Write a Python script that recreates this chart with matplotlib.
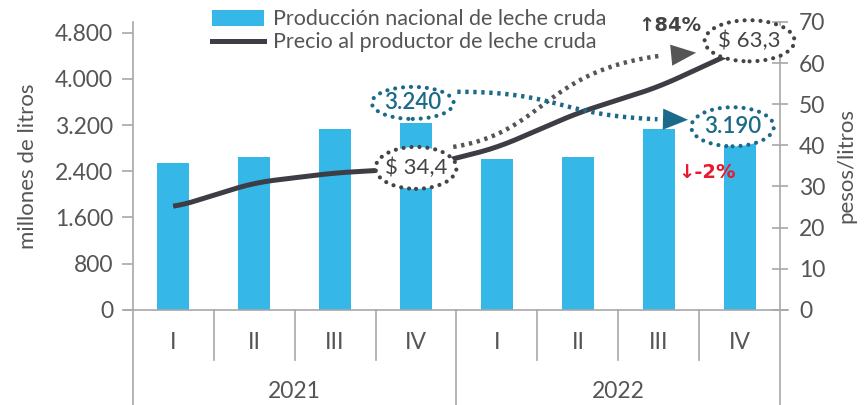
import numpy as np
import matplotlib.pyplot as plt
from matplotlib.patches import Ellipse, Patch
from matplotlib.lines import Line2D
import matplotlib.transforms as mtransforms

plt.rcParams['font.family'] = ['Lato', 'DejaVu Sans']

# data
quarters = ['I', 'II', 'III', 'IV', 'I', 'II', 'III', 'IV']
years = ['2021', '2022']
produccion = [2550, 2650, 3130, 3240, 2620, 2650, 3130, 3190]   # millones de litros
precio = [24.8, 30.9, 33.3, 34.4, 39.4, 47.9, 54.2, 63.3]       # pesos/litro
left_ticks = [0, 800, 1600, 2400, 3200, 4000, 4800]
left_ticklabels = ['0', '800', '1.600', '2.400', '3.200', '4.000', '4.800']
right_ticks = [0, 10, 20, 30, 40, 50, 60, 70]

bar_color = '#35B8E8'
line_color = '#3D3D45'
grey = '#555555'
spine_c = '#A8A8A8'
teal = '#1B6A8A'
dots_line = (0, (0.75, 1.05))
dots_round = (0, (0.01, 1.9))

fig = plt.figure(figsize=(8.67, 4.05), dpi=100)
ax = fig.add_axes([0.153, 0.235, 0.747, 0.711])
ax2 = ax.twinx()

x = np.arange(len(quarters))
ax.bar(x, produccion, width=0.4, color=bar_color, zorder=2)
ax.set_xlim(-0.5, 7.5)
ax.set_ylim(0, 4990)
ax2.set_ylim(0, 70)

# smoothed price line
xs = np.linspace(0, 7, 200)
ys = np.interp(xs, x, precio)
k = np.ones(15) / 15
ys_s = np.convolve(np.pad(ys, 7, mode='edge'), k, mode='valid')
ax2.plot(xs, ys_s, color=line_color, lw=3.6, solid_capstyle='butt', zorder=3)

# axes styling
for a in (ax, ax2):
    for s in ('top', 'bottom'):
        a.spines[s].set_visible(False)
    a.spines['left'].set_color(spine_c)
    a.spines['right'].set_color(spine_c)
    a.spines['left'].set_linewidth(1.2)
    a.spines['right'].set_linewidth(1.2)
ax.spines['right'].set_visible(False)
ax2.spines['left'].set_visible(False)

ax.set_yticks(left_ticks)
ax.set_yticklabels(left_ticklabels)
ax.tick_params(axis='y', colors=spine_c, labelcolor=grey, labelsize=16.5, length=8, width=1.2, pad=6)
ax2.set_yticks(right_ticks)
ax2.tick_params(axis='y', colors=spine_c, labelcolor=grey, labelsize=16.5, length=11, width=1.2,
                direction='inout', pad=8)
ax.set_xticks([])
ax.set_ylabel('millones de litros', fontsize=16, color=grey, labelpad=12)
ax2.set_ylabel('pesos/litros', fontsize=16, color=grey, labelpad=8)

# category axis at the bottom
trans = mtransforms.blended_transform_factory(ax.transData, ax.transAxes)
ax.plot([-0.6, 7.6], [0, 0], transform=trans, color=spine_c, lw=1.2, clip_on=False, zorder=4)
for i in range(9):
    b = i - 0.5
    bottom = -0.33 if i in (0, 4, 8) else -0.174
    ax.plot([b, b], [0, bottom], transform=trans, color=spine_c, lw=1.2, clip_on=False)
for i, q in enumerate(quarters):
    ax.text(i, -0.115, q, transform=trans, ha='center', va='center', fontsize=16.5, color=grey)
for j, yr in enumerate(years):
    ax.text(1.5 + 4 * j, -0.285, yr, transform=trans, ha='center', va='center', fontsize=16.5, color=grey)

# legend
handles = [Patch(facecolor=bar_color, edgecolor='none'),
           Line2D([0], [0], color=line_color, lw=3.6)]
labels = ['Producción nacional de leche cruda', 'Precio al productor de leche cruda']
fig.legend(handles, labels, loc='upper left', bbox_to_anchor=(0.222, 1.025), frameon=False,
           fontsize=15.5, labelcolor=grey, handlelength=2.4, handletextpad=0.45, labelspacing=0.15,
           handleheight=0.8)

# annotations
def bubble(cx, cy, w, h, txt, col, weight='normal'):
    e = Ellipse((cx, cy), w, h, facecolor='white', edgecolor=col, lw=3.0, ls=dots_round,
                capstyle='round', zorder=6, clip_on=False)
    ax2.add_patch(e)
    ax2.text(cx, cy, txt, ha='center', va='center', fontsize=16, color=col, zorder=7,
             fontweight=weight)


def bezier(p0, c1, c2, p3, n=120):
    t = np.linspace(0, 1, n)[:, None]
    pts = ((1 - t) ** 3) * np.array(p0) + 3 * ((1 - t) ** 2) * t * np.array(c1) \
        + 3 * (1 - t) * t ** 2 * np.array(c2) + t ** 3 * np.array(p3)
    return pts[:, 0], pts[:, 1]


def dotted_arrow(p0, c1, c2, p3, col):
    bx, by = bezier(p0, c1, c2, p3)
    ax2.plot(bx[:-10], by[:-10], color=col, lw=3.2, ls=dots_line, dash_capstyle='butt', zorder=5,
             clip_on=False)
    ax2.annotate('', xy=(bx[-1], by[-1]), xytext=(bx[-14], by[-14]),
                 arrowprops=dict(arrowstyle='-|>,head_length=0.9,head_width=0.38',
                                 mutation_scale=20, color=col, lw=0.01, shrinkA=0, shrinkB=0),
                 zorder=5)


bubble(3.0, 34.5, 1.0, 10.2, '$ 34,4', '#444444')
bubble(2.96, 50.3, 1.01, 7.8, '3.240', teal, 'semibold')
bubble(7.12, 65.4, 1.11, 10.0, '$ 63,3', '#444444')
bubble(6.91, 44.5, 1.02, 9.5, '3.190', teal, 'semibold')

dotted_arrow((3.46, 39.6), (4.7, 43.5), (4.55, 60.8), (6.46, 62.5), '#555555')
dotted_arrow((3.51, 53.0), (4.90, 53.0), (4.72, 46.2), (6.36, 46.2), teal)

ax2.text(6.13, 69.0, '↑84%', ha='center', va='center', fontsize=14, fontweight='bold',
         color='#444444', zorder=7, family=['DejaVu Sans'])
ax2.text(6.6, 33.3, '↓-2%', ha='center', va='center', fontsize=14, fontweight='bold',
         color='#E8192C', zorder=7, family=['DejaVu Sans'])

fig.savefig('out.png', dpi=100)
